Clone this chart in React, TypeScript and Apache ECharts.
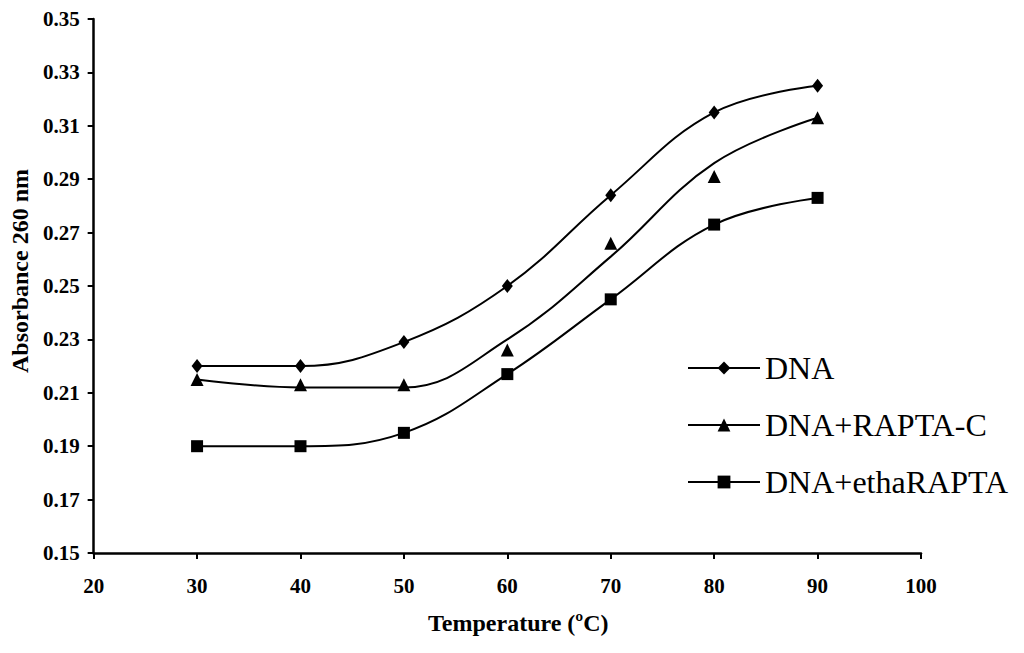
import React, { useEffect, useRef } from "react";
import * as echarts from "echarts";

const temperature = [30, 40, 50, 60, 70, 80, 90];
const dna = [0.22, 0.22, 0.229, 0.25, 0.284, 0.315, 0.325];
const raptaC = [0.215, 0.213, 0.213, 0.226, 0.266, 0.291, 0.313];
const raptaCCurve = [0.215, 0.212, 0.212, 0.23, 0.261, 0.296, 0.313];
const ethaRapta = [0.19, 0.19, 0.195, 0.217, 0.245, 0.273, 0.283];
const yTicks = [0.15, 0.17, 0.19, 0.21, 0.23, 0.25, 0.27, 0.29, 0.31, 0.33, 0.35];
const seriesNames = ["DNA", "DNA+RAPTA-C", "DNA+ethaRAPTA"];

const FONT = "Liberation Serif";

const pairs = (ys: number[]) => temperature.map((t, i) => [t, ys[i]]);

export default function App() {
  const ref = useRef<HTMLDivElement>(null);
  useEffect(() => {
    document.body.style.margin = "0";
    const chart = echarts.init(ref.current!, null, { renderer: "svg" });
    const lineStyle = { color: "#000", width: 2 };
    chart.setOption({
      animation: false,
      backgroundColor: "#fff",
      textStyle: { fontFamily: FONT },
      grid: { left: 93, right: 103, top: 19, bottom: 100, containLabel: false },
      legend: {
        orient: "vertical",
        left: 682,
        top: 347,
        itemWidth: 72,
        itemHeight: 16,
        itemGap: 25,
        data: seriesNames,
        textStyle: { fontFamily: FONT, fontSize: 32, color: "#000" },
      },
      xAxis: {
        type: "value",
        min: 20,
        max: 100,
        interval: 10,
        name: "Temperature (ºC)",
        nameLocation: "middle",
        nameGap: 58,
        nameTextStyle: {
          fontFamily: FONT,
          fontSize: 24,
          fontWeight: "bold",
          color: "#000",
          padding: [0, 0, 0, 22],
        },
        axisLine: { lineStyle: { color: "#000", width: 2.5 } },
        axisTick: { show: true, inside: false, length: 6, lineStyle: { color: "#000", width: 2 } },
        axisLabel: { fontFamily: FONT, fontSize: 21, fontWeight: "bold", color: "#000", margin: 22 },
        splitLine: { show: false },
      },
      yAxis: {
        type: "value",
        min: 0.15,
        max: 0.35,
        name: "Absorbance 260 nm",
        nameLocation: "middle",
        nameGap: 57,
        nameTextStyle: {
          fontFamily: FONT,
          fontSize: 24,
          fontWeight: "bold",
          color: "#000",
          padding: [0, 0, 0, 30],
        },
        axisLine: { show: true, lineStyle: { color: "#000", width: 2.5 } },
        axisTick: {
          show: true,
          inside: false,
          length: 6,
          customValues: yTicks,
          lineStyle: { color: "#000", width: 2 },
        },
        axisLabel: {
          fontFamily: FONT,
          fontSize: 21,
          fontWeight: "bold",
          color: "#000",
          margin: 14,
          customValues: yTicks,
          formatter: (v: number) => v.toFixed(2),
        },
        splitLine: { show: false },
      },
      series: [
        {
          name: seriesNames[0],
          type: "line",
          data: pairs(dna),
          smooth: 0.4,
          symbol: "diamond",
          symbolSize: [11, 14],
          itemStyle: { color: "#000", opacity: 1 },
          lineStyle,
        },
        {
          name: seriesNames[1],
          type: "line",
          data: pairs(raptaCCurve),
          smooth: 0.4,
          symbol: "triangle",
          symbolSize: 13,
          showSymbol: false,
          itemStyle: { color: "#000", opacity: 1 },
          lineStyle,
        },
        {
          name: seriesNames[1],
          type: "scatter",
          data: pairs(raptaC),
          symbol: "triangle",
          symbolSize: 13,
          itemStyle: { color: "#000", opacity: 1 },
        },
        {
          name: seriesNames[2],
          type: "line",
          data: pairs(ethaRapta),
          smooth: 0.4,
          symbol: "rect",
          symbolSize: 12,
          itemStyle: { color: "#000", opacity: 1 },
          lineStyle,
        },
      ],
    });
    return () => chart.dispose();
  }, []);
  return <div ref={ref} style={{ width: 1024, height: 653 }} />;
}
